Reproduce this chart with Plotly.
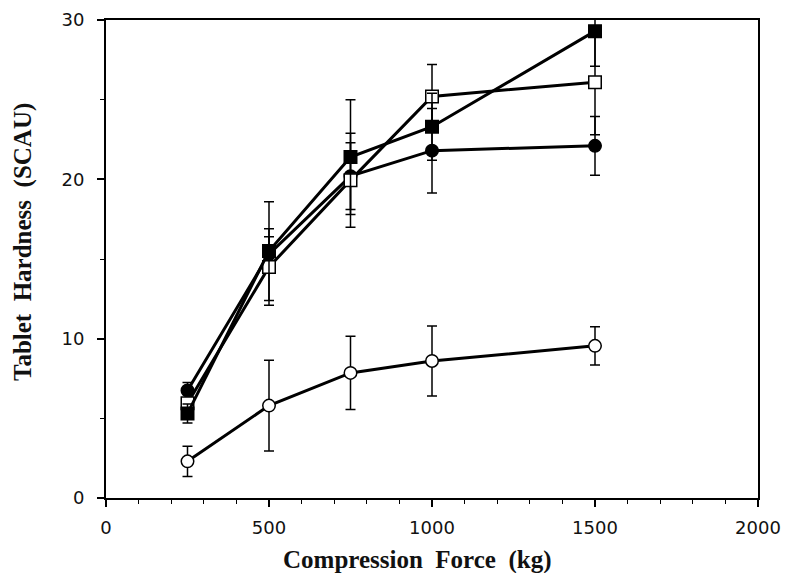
import plotly.graph_objects as go

force = [250, 500, 750, 1000, 1500]

filled_square = [5.3, 15.5, 21.4, 23.3, 29.3]
filled_square_err = [0.6, 3.1, 3.6, 2.1, 2.2]

open_square = [5.95, 14.5, 19.95, 25.2, 26.1]
open_square_err = [0.7, 2.4, 2.95, 2.0, 3.3]

filled_circle = [6.75, 15.3, 20.2, 21.8, 22.1]
filled_circle_err = [0.5, 1.1, 2.1, 2.65, 1.85]

open_circle = [2.3, 5.8, 7.85, 8.6, 9.55]
open_circle_err = [0.95, 2.85, 2.3, 2.2, 1.2]

x_ticks = [0, 500, 1000, 1500, 2000]
y_ticks = [0, 10, 20, 30]

x_title = "Compression  Force  (kg)"
y_title = "Tablet  Hardness  (SCAU)"

fig = go.Figure()

def add(y, err, symbol, fill):
    fig.add_trace(go.Scatter(
        x=force, y=y, mode="lines+markers",
        line=dict(color="black", width=3),
        marker=dict(symbol=symbol, size=12.5, color=fill,
                    line=dict(color="black", width=1.5)),
        error_y=dict(type="data", array=err, color="black", thickness=1.5, width=5),
        showlegend=False,
    ))

add(open_circle, open_circle_err, "circle", "white")
add(filled_circle, filled_circle_err, "circle", "black")
add(open_square, open_square_err, "square", "white")
add(filled_square, filled_square_err, "square", "black")

tick_font = dict(family="DejaVu Sans, Verdana, sans-serif", size=18, color="#111")
title_font = dict(family="Liberation Serif, Times New Roman, serif", size=25, color="#111")

axis_common = dict(
    showline=True, linecolor="black", linewidth=2, mirror=True,
    showgrid=False, zeroline=False, automargin=False,
    ticks="outside", tickcolor="black", tickwidth=1.5, ticklen=7,
    tickfont=tick_font,
)

fig.update_xaxes(
    range=[0, 2000], tickmode="array", tickvals=x_ticks,
    ticktext=[str(v) for v in x_ticks],
    ticklabelstandoff=5,
    minor=dict(dtick=100, ticks="outside", ticklen=4, tickcolor="black", tickwidth=1.2),
    **axis_common,
)
fig.update_yaxes(
    range=[0, 30], tickmode="array", tickvals=y_ticks,
    ticktext=[str(v) for v in y_ticks],
    ticklabelstandoff=9,
    minor=dict(dtick=5, ticks="outside", ticklen=4, tickcolor="black", tickwidth=1.2),
    **axis_common,
)

fig.add_annotation(
    text="<b>" + x_title + "</b>", xref="paper", yref="paper",
    x=0.4785, y=0, yshift=-62, xanchor="center", yanchor="middle",
    showarrow=False, font=title_font,
)
fig.add_annotation(
    text="<b>" + y_title + "</b>", xref="paper", yref="paper",
    x=-0.1273, y=0.5356, xanchor="center", yanchor="middle", textangle=-90,
    showarrow=False, font=title_font,
)

# page body adds an 8px margin, so the figure is sized to fit the 791x573 window
fig.update_layout(
    width=783, height=565,
    margin=dict(l=98, r=33, t=12, b=75),
    paper_bgcolor="white", plot_bgcolor="white",
)

fig.write_html("out.html")
